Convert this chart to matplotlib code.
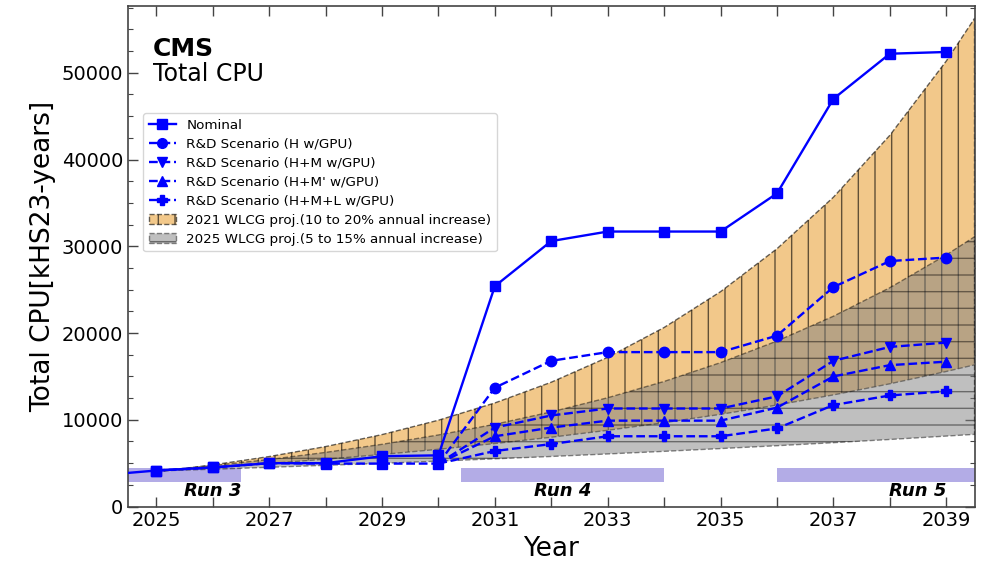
import matplotlib
matplotlib.use("Agg")
import matplotlib.pyplot as plt
from matplotlib.patches import Patch
from matplotlib.lines import Line2D
from matplotlib.ticker import MultipleLocator

# ---------------- data ----------------
years_nominal = [2024, 2025, 2026, 2027, 2028, 2029, 2030, 2031, 2032, 2033,
                 2034, 2035, 2036, 2037, 2038, 2039]
nominal = [3600, 4150, 4500, 5000, 5000, 5800, 5900, 25400, 30600, 31700,
           31700, 31700, 36100, 47000, 52200, 52400]

years_base = [2025, 2026, 2027, 2028, 2029, 2030]
baseline = [4150, 4500, 5000, 4950, 4950, 4950]

years_rd = [2030, 2031, 2032, 2033, 2034, 2035, 2036, 2037, 2038, 2039]
rd_H = [4950, 13700, 16800, 17800, 17800, 17800, 19700, 25300, 28300, 28700]
rd_HM = [4950, 9100, 10500, 11300, 11300, 11300, 12700, 16800, 18400, 18900]
rd_HMp = [4950, 8100, 9100, 9900, 9900, 9900, 11400, 15000, 16300, 16700]
rd_HML = [4950, 6400, 7200, 8100, 8100, 8100, 9000, 11700, 12800, 13300]

years_band = [2025, 2026, 2027, 2028, 2029, 2030, 2031, 2032, 2033, 2034,
              2035, 2036, 2037, 2038, 2039, 2039.5]
wlcg21_hi = [4000, 4800, 5760, 6910, 8290, 9950, 11940, 14330, 17200, 20640,
             24770, 29720, 35660, 42800, 51360, 56260]
wlcg21_lo = [4100, 4510, 4960, 5460, 6000, 6600, 7260, 7990, 8790, 9670,
             10630, 11700, 12870, 14150, 15570, 16330]
wlcg25_hi = [4100, 4720, 5420, 6240, 7170, 8250, 9480, 10910, 12540, 14420,
             16590, 19080, 21940, 25230, 29010, 31100]
wlcg25_lo = [4100, 4300, 4520, 4750, 4980, 5230, 5500, 5770, 6060, 6360,
             6680, 7010, 7360, 7730, 8120, 8320]

runs = ["Run 3", "Run 4", "Run 5"]
run_start = [2024.5, 2030.4, 2036.0]
run_end = [2026.5, 2034.0, 2039.5]
run_label_x = [2026.0, 2032.2, 2038.5]

xtick_years = list(range(2025, 2040))
xtick_labels = [str(y) if (y - 2025) % 2 == 0 else "" for y in xtick_years]

# ---------------- figure ----------------
fig = plt.figure(figsize=(9.81, 5.61), dpi=100)
ax = fig.add_axes([0.1305, 0.0971, 0.8629, 0.8922])

blue = "#0000ff"
orange_face = "#f2c88a"

# run bars
for s, e in zip(run_start, run_end):
    ax.fill_between([s, e], 2800, 4400, facecolor="#b3ace6", edgecolor="none", zorder=1)
for name, xl in zip(runs, run_label_x):
    ax.text(xl, 1250, name, ha="center", va="baseline", fontsize=13,
            fontweight="bold", fontstyle="italic", zorder=6)

# bands
ax.fill_between(years_band, wlcg21_lo, wlcg21_hi, facecolor=orange_face,
                edgecolor=(0, 0, 0, 0.6), hatch="|", linestyle="--", linewidth=1.0,
                zorder=2)
ax.fill_between(years_band, wlcg25_lo, wlcg25_hi, facecolor=(0.5, 0.5, 0.5, 0.5),
                edgecolor=(0, 0, 0, 0.45), hatch="-", linestyle="--", linewidth=1.0,
                zorder=3)

# lines
lw = 1.7
ax.plot(years_nominal, nominal, color=blue, lw=lw, marker="s", ms=7.5, zorder=5)
ax.plot(years_base, baseline, color=blue, lw=lw, ls="--", marker="s", ms=7.5, zorder=5)
rd_sets = [(rd_H, "o"), (rd_HM, "v"), (rd_HMp, "^"), (rd_HML, "P")]
for vals, mk in rd_sets:
    ax.plot(years_rd, vals, color=blue, lw=lw, ls="--", marker=mk, ms=7.5,
            markevery=slice(1, None), zorder=4)

# axes
ax.set_xlim(2024.5, 2039.5)
ax.set_ylim(0, 57700)
ax.set_xticks(xtick_years)
ax.set_xticklabels(xtick_labels)
ax.yaxis.set_major_locator(MultipleLocator(10000))
ax.yaxis.set_minor_locator(MultipleLocator(2500))
ax.tick_params(axis="both", which="major", direction="in", length=7, width=1.0,
               labelsize=14, top=True, right=True, color="#444444")
ax.tick_params(axis="y", which="minor", direction="in", length=3.5, width=0.8,
               right=True, color="#444444")
for sp in ax.spines.values():
    sp.set_color("#444444")
    sp.set_linewidth(1.2)

ax.set_xlabel("Year", fontsize=19)
ax.set_ylabel("Total CPU[kHS23-years]", fontsize=19)

ax.text(0.029, 0.900, "CMS", transform=ax.transAxes, fontsize=18,
        fontweight="bold", va="baseline", ha="left")
ax.text(0.029, 0.850, "Total CPU", transform=ax.transAxes, fontsize=17,
        va="baseline", ha="left")

# legend
handles = [
    Line2D([], [], color=blue, lw=lw, marker="s", ms=7),
    Line2D([], [], color=blue, lw=lw, ls="--", marker="o", ms=7),
    Line2D([], [], color=blue, lw=lw, ls="--", marker="v", ms=7),
    Line2D([], [], color=blue, lw=lw, ls="--", marker="^", ms=7),
    Line2D([], [], color=blue, lw=lw, ls="--", marker="P", ms=7),
    Patch(facecolor=orange_face, edgecolor=(0, 0, 0, 0.6), hatch="|", linestyle="--"),
    Patch(facecolor=(0.5, 0.5, 0.5, 0.5), edgecolor=(0, 0, 0, 0.45), hatch="-", linestyle="--"),
]
labels = [
    "Nominal",
    "R&D Scenario (H w/GPU)",
    "R&D Scenario (H+M w/GPU)",
    "R&D Scenario (H+M' w/GPU)",
    "R&D Scenario (H+M+L w/GPU)",
    "2021 WLCG proj.(10 to 20% annual increase)",
    "2025 WLCG proj.(5 to 15% annual increase)",
]
ax.legend(handles, labels, loc="upper left", bbox_to_anchor=(0.018, 0.786),
          borderaxespad=0, fontsize=9.7, labelspacing=0.45, framealpha=0.8)

fig.savefig("out.png", dpi=100)
